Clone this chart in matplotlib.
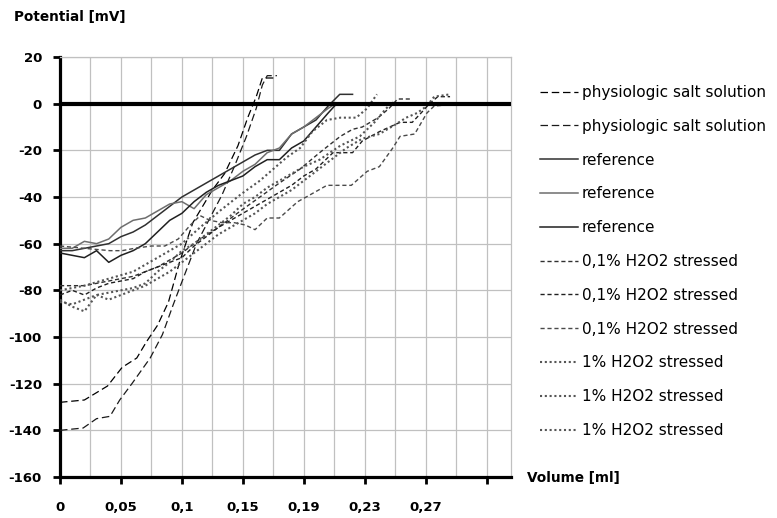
import numpy as np
import matplotlib.pyplot as plt

plt.rcParams['font.family'] = ['DejaVu Sans']
plt.rcParams['axes.unicode_minus'] = False

# x = measuring step (category index); tick labels give the volume in ml
tick_pos = [0, 5, 10, 15, 20, 25, 30, 35]
tick_labels = ['0', '0,05', '0,1', '0,15', '0,19', '0,23', '0,27', '']

phys1_x = [0, 2.0, 3.9, 5.1, 6.3, 7.1, 8.0, 8.9, 9.8, 10.9, 11.7, 12.5, 13.5, 14.6, 15.4, 16.1, 16.6, 17.8]
phys1_y = [-128, -127, -121, -113, -109, -102, -95, -85, -68, -51, -44, -37, -30, -18, -6, 3, 11, 11]
phys2_x = [0, 1.9, 3.0, 4.1, 4.9, 5.9, 7.4, 8.4, 9.3, 10.1, 11.2, 12.3, 13.3, 14.3, 15.3, 16.1, 16.6, 17.0, 17.8]
phys2_y = [-140, -139, -135, -134, -127, -120, -109, -99, -86, -75, -60, -49, -39, -27, -14, -2, 8, 12, 12]

ref1_x = list(range(23)) + [22.95, 24]
ref1_y = [-63, -63, -62, -61, -60, -57, -55, -52, -48, -44, -40, -37, -34, -31, -28, -25, -22, -20, -20, -13, -10, -7, -1, 4, 4]
ref2_x = list(range(23)) + [22.6]
ref2_y = [-62, -62, -59, -60, -58, -53, -50, -49, -46, -43, -42, -45, -39, -36, -33, -29, -26, -21, -19, -13, -10, -6, -2, 0]
ref3_x = list(range(23)) + [22.7]
ref3_y = [-64, -65, -66, -63, -68, -65, -63, -60, -55, -50, -47, -42, -38, -35, -33, -31, -27, -24, -24, -19, -16, -10, -4, 0]

h01a_x = [0, 2, 4, 6, 8, 10, 11.5, 13, 14.8, 16.4, 18, 19.7, 21.3, 23, 24, 24.8, 26.1, 27, 27.7, 28.7]
h01a_y = [-78, -78, -76, -74, -70, -64, -58, -53, -46, -40, -34, -28, -21, -14, -11, -10, -6, -2, 2, 2]
h01b_x = list(range(22)) + [22.4, 24, 24.8, 26.2, 27.9, 28.9, 29.8, 30.3, 31, 32]
h01b_y = [-82, -80, -82, -79, -77, -76, -75, -72, -70, -68, -66, -61, -57, -53, -50, -47, -44, -41, -38, -35,
          -31, -28, -21, -21, -16, -12, -8, -8, -3, 0, 3, 3]
h01c_x = [0, 2, 4.1, 5.1, 6.1, 7.5, 8.6, 9.7, 10.7, 11.5, 12.3, 13.3, 14.3, 15.2, 16, 17, 18, 19.5, 20.2,
          21.9, 23.9, 25.2, 26.2, 27.3, 27.9, 29.1, 30.1, 30.7, 33]
h01c_y = [-61, -62, -63, -63, -62, -61, -61, -58, -52, -48, -50, -51, -51, -52, -54, -49, -49, -42, -40,
          -35, -35, -29, -27, -19, -14, -13, -4, -1, 0]

h1a_x = [0, 2, 4, 6, 8, 10, 11.5, 13.1, 14.8, 16.4, 18.6, 19.7, 20.7, 21.9, 23, 24.3, 25.2, 26]
h1a_y = [-80, -78, -75, -72, -66, -60, -53, -46, -39, -33, -23, -19, -12, -7, -6, -6, -2, 4]
h1b_x = list(range(23)) + [23.5, 24.8, 26.2, 27.5, 28.4, 29.3, 30.1, 30.7, 32]
h1b_y = [-85, -86, -84, -82, -84, -82, -80, -78, -75, -72, -68, -64, -60, -56, -53, -50, -47, -43, -40, -37,
         -33, -29, -25, -19, -15, -13, -9, -6, -4, -1, 3, 4]
h1c_x = list(range(21)) + [21.3, 23, 24.6, 25.8, 26.6, 27.3]
h1c_y = [-84, -87, -89, -82, -81, -80, -79, -77, -72, -68, -63, -60, -56, -52, -48, -43, -40, -36, -33, -30,
         -27, -24, -18, -14, -8, -3, 1]

long_dash = (0, (6, 3))
short_dash = (0, (3, 2))
dots = (0, (1, 1.3))

series = [
    (phys1_x, phys1_y, 'physiologic salt solution', '#000000', long_dash, 0.9),
    (phys2_x, phys2_y, 'physiologic salt solution', '#1a1a1a', long_dash, 0.9),
    (ref1_x, ref1_y, 'reference', '#303030', '-', 1.1),
    (ref2_x, ref2_y, 'reference', '#6e6e6e', '-', 1.1),
    (ref3_x, ref3_y, 'reference', '#202020', '-', 1.1),
    (h01a_x, h01a_y, '0,1% H2O2 stressed', '#303030', short_dash, 1.0),
    (h01b_x, h01b_y, '0,1% H2O2 stressed', '#202020', short_dash, 1.0),
    (h01c_x, h01c_y, '0,1% H2O2 stressed', '#4a4a4a', short_dash, 1.0),
    (h1a_x, h1a_y, '1% H2O2 stressed', '#555555', dots, 1.5),
    (h1b_x, h1b_y, '1% H2O2 stressed', '#555555', dots, 1.5),
    (h1c_x, h1c_y, '1% H2O2 stressed', '#555555', dots, 1.5),
]

fig = plt.figure(figsize=(7.77, 5.18), dpi=100)
ax = fig.add_axes([60 / 777, 1 - 477 / 518, 451 / 777, 420 / 518])

# grid
for gx in np.arange(2.5, 36, 2.5):
    ax.axvline(gx, color='#c0c0c0', lw=0.9, zorder=0)
for gy in range(-140, 21, 20):
    ax.axhline(gy, color='#c0c0c0', lw=0.9, zorder=0)

for x, y, lab, col, ls, lw in series:
    ax.plot(x, y, color=col, linestyle=ls, lw=lw, label=lab, zorder=3)

ax.axhline(0, color='black', lw=3, zorder=4)

ax.set_xlim(0, 37)
ax.set_ylim(-160, 20)
ax.set_xticks(tick_pos)
ax.set_xticklabels(tick_labels)
ax.set_yticks(range(-160, 21, 20))

for side in ['top', 'right']:
    ax.spines[side].set_color('#c0c0c0')
    ax.spines[side].set_linewidth(0.9)
for side in ['left', 'bottom']:
    ax.spines[side].set_color('black')
    ax.spines[side].set_linewidth(2.3)

ax.tick_params(axis='y', direction='out', length=5, width=2, pad=8, labelsize=9.5)
ax.tick_params(axis='x', direction='out', length=5, width=2, pad=12, labelsize=9.5)
for t in ax.get_xticklabels() + ax.get_yticklabels():
    t.set_fontweight('bold')

fig.text(14 / 777, 1 - 17 / 518, 'Potential [mV]', fontsize=9.8, fontweight='bold', va='center', ha='left')
fig.text(527 / 777, 1 - 478 / 518, 'Volume [ml]', fontsize=9.8, fontweight='bold', va='center', ha='left')

fig.legend(loc='upper left', bbox_to_anchor=(540 / 777, 1 - 85 / 518), frameon=False,
           fontsize=11, handlelength=2.5, handletextpad=0.25, labelspacing=1.23,
           borderpad=0, borderaxespad=0)

fig.savefig('out.png', dpi=100)
